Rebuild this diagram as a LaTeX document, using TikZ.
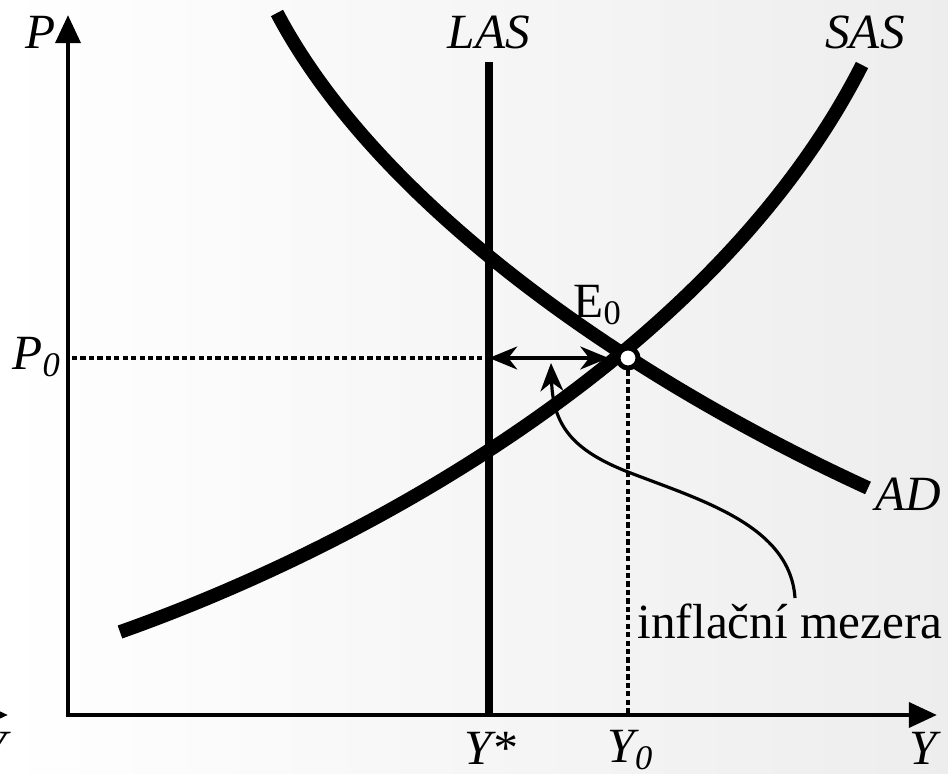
\documentclass[tikz,border=0pt]{standalone}
\usepackage{fontspec}
\setmainfont{Liberation Serif}
\usetikzlibrary{arrows.meta}

\begin{document}
\begin{tikzpicture}[x=0.01cm,y=-0.01cm,
        every node/.style={font=\fontsize{14}{16}\selectfont},
        axis/.style={line width=1.4pt,{Triangle[length=8pt,width=7pt]}-{Triangle[length=8pt,width=7pt]}},
        curve/.style={line width=3.9pt},
        guide/.style={line width=1.35pt,dash pattern=on 1.5pt off 0.9pt},
        >={Stealth[length=8pt,width=6.5pt,inset=2.5pt]}]
    % background
    \shade[left color=white,right color=black!7] (0,0) rectangle (948,774);
    \useasboundingbox (0,0) rectangle (948,774);
    % piece of the neighbouring graph
    \begin{scope}
        \clip (0,0) rectangle (948,774);
        \draw[line width=1.4pt,-{Triangle[length=8pt,width=7pt]}] (-100,715) -- (8,715);
        \node (Yleft) at (-7,748) {\itshape Y};
    \end{scope}
    % axes
    \coordinate (O) at (68,715);
    \coordinate (Ptip) at (68,15);
    \coordinate (Ytip) at (937,715);
    \draw[axis] (Ptip) -- (O) -- (Ytip);
    \node (P) at (41,32) {\itshape P};
    \node (Y) at (923,748) {\itshape Y};
    % LAS
    \coordinate (LAStop) at (489,62);
    \coordinate (LASbot) at (489,715);
    \draw[line width=2.2pt] (LAStop) -- (LASbot);
    \node (LAS) at (489,32) {\itshape LAS};
    \node (Ystar) at (490,748) {\itshape Y*};
    % SAS and AD
    \draw[curve] (120,632) .. controls (380,540) and (720,345) .. (862,65);
    \draw[curve] (277,13) .. controls (370,190) and (600,365) .. (868,488);
    \node (SAS) at (865,32) {\itshape SAS};
    \node (AD) at (908,494) {\itshape AD};
    % equilibrium
    \coordinate (LASp) at (489,358);
    \coordinate (Pax) at (72,358);
    \coordinate (Yax) at (628,715);
    \node[circle,draw,fill=white,line width=1.4pt,inner sep=0pt,minimum size=0.2cm] (E0) at (628,358) {};
    \node (E0lab) at (598,305) {E\textsubscript{0}};
    \node (P0) at (37,357) {\itshape P\textsubscript{0}};
    \node (Y0) at (631,750) {\itshape Y\textsubscript{0}};
    \draw[guide] (Pax) -- (LASp);
    \draw[guide] (E0) -- (Yax);
    \draw[<->,line width=1.1pt,shorten >=2pt] (LASp) -- (E0);
    % gap label
    \node (gap) at (790,621) {inflační mezera};
    \coordinate (ptrfoot) at (795,598);
    \coordinate (ptrtip) at (551,363);
    \draw[->,line width=0.9pt] (ptrfoot) .. controls (790,525) and (700,500) .. (628,472)
        .. controls (572,450) and (553,425) .. (ptrtip);
\end{tikzpicture}
\end{document}
